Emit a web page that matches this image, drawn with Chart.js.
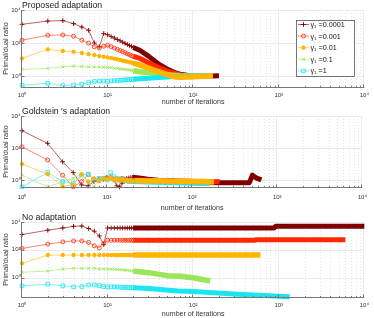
<!DOCTYPE html>
<html><head><meta charset="utf-8">
<script src="https://cdn.jsdelivr.net/npm/chart.js"></script>
<style>
html,body{margin:0;padding:0;background:#fff;}
#wrap{position:relative;width:374px;height:318px;overflow:hidden;background:#fff;}
.panel{position:absolute;left:0;width:374px;height:106px;}
</style></head><body>
<div id="wrap">
<div class="panel" style="top:0"><canvas id="c1"></canvas></div>
<div class="panel" style="top:106px"><canvas id="c2"></canvas></div>
<div class="panel" style="top:212px"><canvas id="c3"></canvas></div>
</div>
<script>
// ---------- labels / ticks ----------
const gammaLabels = ['γ₁ =0.0001','γ₁ =0.001','γ₁ =0.01','γ₁ =0.1','γ₁ =1'];
const panelTitles = ['Proposed adaptation','Goldstein ′s adaptation','No adaptation'];
const xTitle = 'number of iterations';
const yTitle = 'Primal/dual ratio';
const xTicks = [1,10,100,1000,10000];
const xTickLabels = ['10⁰','10¹','10²','10³','10⁴'];
const yTicks = [1,100,10000];
const yTickLabels = ['10⁰','10²','10⁴'];
const iters = [1,2,3,4,5,6,7,8,9,10,11,12,13,14,15,16,17,18,19,20];

// ---------- Proposed adaptation ----------
const pa1e4 = [1350,2140,2270,1490,930,590,100,59,372,316,245,200,162,135,112,95,81,71,62,54];
const pa1e3 = [148,295,309,257,148,98,59,49,64,74,60,49,41,35,30,26,22,20,17,15.5];
const pa1e2 = [11.7,41,33,29,25,21,18.5,16,14.5,13.4,12.3,11.2,10.2,9.3,8.5,7.9,7.4,6.9,6.5,6.0];
const pa1e1 = [2.5,2.9,3.6,4.0,3.7,3.6,3.5,3.5,3.4,3.3,3.2,3.0,2.9,2.75,2.6,2.5,2.4,2.3,2.2,2.1];
const pa1e0 = [0.27,0.36,0.26,0.28,0.32,0.4,0.46,0.49,0.5,0.47,0.5,0.52,0.54,0.55,0.56,0.58,0.59,0.6,0.62,0.63];
const paT1e4it = [20,24,30,40,50,60,70,85,100,140,200];
const paT1e4   = [54,35,16,5.0,2.6,1.66,1.3,1.1,1.0,0.95,1.05];
const paT1e3it = [20,24,30,40,50,60,70,85,100,130,170];
const paT1e3   = [15.5,11.5,6.3,3.2,2.0,1.5,1.2,1.05,1.0,0.95,1.0];
const paT1e2it = [20,24,30,40,50,60,70,85,100,130,170];
const paT1e2   = [6.0,4.6,3.0,1.8,1.2,0.91,0.83,0.87,0.91,0.95,1.0];
const paT1e1it = [20,24,30,40,50,70,100,170];
const paT1e1   = [2.1,1.8,1.6,1.3,1.17,1.05,1.0,1.0];
const paT1e0it = [20,30,40,60,80,100,160];
const paT1e0   = [0.63,0.72,0.81,0.93,0.98,1.0,1.0];

// ---------- Goldstein's adaptation ----------
const ga1e4 = [1200,195,13.8,2.9,0.49,0.43,0.79,1.1,1.1,1.26,1.48,1.0,0.43,0.37,0.63,0.89,1.26,1.32,1.41,1.48];
const ga1e3 = [120,17.8,2.0,0.37,0.79,2.2,1.12,0.89,1.26,1.41,1.26,1.12,1.0,1.12,1.26,1.12,1.0,1.12,1.05,1.0];
const ga1e2 = [10,2.3,0.4,0.5,2.2,0.79,1.26,0.89,1.26,1.12,1.41,1.0,1.26,0.89,1.12,0.89,1.0,0.79,1.0,0.89];
const ga1e1 = [2.0,0.37,0.79,1.26,2.6,0.68,0.37,1.0,1.26,1.12,1.0,0.89,1.0,0.95,0.89,0.95,0.85,0.9,0.85,0.85];
const ga1e0 = [0.37,2.9,0.79,0.63,2.0,2.3,1.0,1.26,1.26,1.0,2.9,1.6,1.26,1.0,1.12,0.89,1.0,0.79,0.89,0.79];
const gaT1e4it = [20,25,30,40,60,100,200,300,470,510,570,650];
const gaT1e4   = [1.48,1.3,1.1,0.95,0.85,0.75,0.68,0.68,0.68,2.0,1.3,1.0];
const gaT1e3it = [20,30,50,80,120,170,210];
const gaT1e3   = [1.0,0.95,0.9,0.85,0.8,0.78,0.8];
const gaT1e2it = [20,30,40,60,80,100,130,180];
const gaT1e2   = [0.89,0.85,0.9,0.8,0.85,0.78,0.8,0.75];
const gaT1e1it = [20,40,70,100,150];
const gaT1e1   = [0.85,0.8,0.8,0.78,0.8];
const gaT1e0it = [20,30,50,80,120,160];
const gaT1e0   = [0.79,0.75,0.7,0.65,0.6,0.6];

// ---------- No adaptation ----------
const na1e4 = [1260,2570,3720,4900,5130,3390,2190,1000,245,3720,3720,3720,3720,3720,3720,3720,3720,3720,3720,3720];
const na1e3 = [126,257,372,437,437,339,195,138,288,490,490,490,490,490,490,490,490,490,490,490];
const na1e2 = [10.7,42,42,42,42,42,42,42,42,42,42,42,42,42,42,42,42,42,42,42];
const na1e1 = [2.45,3.0,4.2,4.7,4.7,4.7,4.7,4.2,4.2,4.2,4.1,4.0,3.9,3.8,3.6,3.5,3.4,3.3,3.15,3.0];
const na1e0 = [0.26,0.34,0.26,0.22,0.23,0.3,0.3,0.27,0.23,0.22,0.22,0.22,0.21,0.21,0.2,0.2,0.2,0.19,0.19,0.19];
const naT1e4it = [20,880,920,10000];
const naT1e4   = [3720,3720,4900,4900];
const naT1e3it = [20,520,540,6000];
const naT1e3   = [490,490,525,525];
const naT1e2it = [20,610];
const naT1e2   = [42,42];
const naT1e1it = [20,30,50,70,100,158];
const naT1e1   = [3.0,2.3,1.4,1.25,1.0,0.58];
const naT1e0it = [20,30,67,100,330,1340];
const naT1e0   = [0.19,0.17,0.11,0.1,0.065,0.043];

// ---------- styles ----------
const COLORS = ['#800000','#ff2800','#ffb400','#9be55a','#19e6f0'];
const LINECOLORS = ['#a04040','#ff6a50','#ffc840','#b4ec84','#5cecf2'];
const MARKERS = ['cross','circle','star','crossRot','rect'];
const RADII = [2.4, 2.0, 2.1, 2.1, 2.6];
const MBW = [0.9, 0.8, 1.4, 0.9, 0.8];
const TAILW = [5, 5, 5.5, 5.5, 5];
const ORDER = [4, 3, 0, 2, 1];
const FONT = "'Liberation Sans', Arial, Helvetica, sans-serif";

function pts(xs, ys){ return ys.map((v,i)=>({x:xs[i], y:v})); }
function buildDatasets(heads, tails){
  const ds = [];
  for (let i=0;i<5;i++){
    ds.push({ data: pts(tails[i][0], tails[i][1]), borderColor: COLORS[i], borderWidth: TAILW[i],
      pointRadius: 0, order: 10+ORDER[i], borderCapStyle:'butt', borderJoinStyle:'round', clip: 3, fill:false });
    ds.push({ data: pts(iters, heads[i]), borderColor: LINECOLORS[i], borderWidth: 0.8,
      pointStyle: MARKERS[i], pointRadius: RADII[i], pointBorderColor: COLORS[i], pointBorderWidth: MBW[i],
      pointBackgroundColor: 'rgba(0,0,0,0)', order: ORDER[i], clip: 6, fill:false });
  }
  return ds;
}

function line(ctx,x1,y1,x2,y2){ ctx.beginPath(); ctx.moveTo(x1,y1); ctx.lineTo(x2,y2); ctx.stroke(); }

const decoPlugin = {
  id: 'deco',
  beforeDatasetsDraw(chart){
    const {ctx, chartArea:a, scales:{x,y}} = chart;
    ctx.save();
    ctx.lineWidth = 1;
    ctx.strokeStyle = '#e3e3e3';
    ctx.setLineDash([1,2]);
    for (const d of [1,10,100,1000]) for (let m=2;m<=9;m++){
      const px = Math.round(x.getPixelForValue(d*m))+0.5; line(ctx,px,a.top,px,a.bottom);
    }
    ctx.setLineDash([]);
    ctx.strokeStyle = '#ebebeb';
    xTicks.forEach(v=>{ const px = Math.round(x.getPixelForValue(v))-0.5; line(ctx,px,a.top,px,a.bottom); });
    yTicks.forEach(v=>{ const py = Math.round(y.getPixelForValue(v))+0.5; line(ctx,a.left,py,a.right,py); });
    ctx.restore();
  },
  afterDatasetsDraw(chart, args, opts){
    const {ctx, chartArea:a, scales:{x,y}} = chart;
    ctx.save();
    ctx.strokeStyle = '#777'; ctx.lineWidth = 1;
    const L = Math.round(a.left)-0.5, B = Math.round(a.bottom)+0.5;
    line(ctx,L,a.top,L,B); line(ctx,L,B,a.right,B);
    xTicks.forEach(v=>{ const px = Math.round(x.getPixelForValue(v))-0.5; line(ctx,px,B,px,B-3); });
    for (const d of [1,10,100,1000]) for (let m=2;m<=9;m++){
      const px = Math.round(x.getPixelForValue(d*m))+0.5; line(ctx,px,B,px,B-1.5);
    }
    yTicks.forEach(v=>{ const py = Math.round(y.getPixelForValue(v))+0.5; line(ctx,L,py,L+3,py); });
    // panel title
    ctx.fillStyle = '#1a1a1a'; ctx.font = '8.7px ' + FONT; ctx.textBaseline = 'alphabetic'; ctx.textAlign = 'left';
    ctx.fillText(opts.title, a.left, a.top - 2.5);
    // legend
    if (opts.legend){
      const lx = 296.5, ly = 20.5, lw = 58, lh = 56;
      ctx.fillStyle = '#fff'; ctx.fillRect(lx,ly,lw,lh);
      ctx.strokeStyle = '#555'; ctx.lineWidth = 0.8; ctx.strokeRect(lx,ly,lw,lh);
      for (let i=0;i<5;i++){
        const yy = 24.5 + i*11.6;
        ctx.strokeStyle = LINECOLORS[i]; ctx.lineWidth = 0.8; line(ctx,298,yy,309,yy);
        ctx.strokeStyle = COLORS[i]; ctx.lineWidth = MBW[i]; ctx.fillStyle = 'rgba(0,0,0,0)';
        Chart.helpers.drawPoint(ctx, {pointStyle:MARKERS[i], radius:RADII[i], borderWidth:MBW[i], rotation:0}, 303.5, yy);
        ctx.fillStyle = '#111'; ctx.font = '7.2px ' + FONT; ctx.textBaseline = 'middle';
        ctx.fillText(gammaLabels[i], 310.5, yy+0.5);
      }
    }
    ctx.restore();
  }
};

function makeChart(id, p){
  return new Chart(document.getElementById(id), {
    type: 'line',
    data: { datasets: buildDatasets(p.heads, p.tails) },
    options: {
      responsive: true, maintainAspectRatio: false, animation: false,
      layout: { padding: { left: 0, right: 8, top: p.top, bottom: 0 } },
      elements: { line: { tension: 0 } },
      plugins: { legend: {display:false}, tooltip: {enabled:false}, deco: { title: p.title, legend: p.legend } },
      scales: {
        x: { type:'logarithmic', position:'bottom', min:1, max:10000,
          grid:{display:false, drawTicks:false}, border:{display:false},
          afterBuildTicks: s => { s.ticks = xTicks.map(v=>({value:v})); },
          afterFit: s => { s.height = p.xh; },
          ticks: { autoSkip:false, maxRotation:0, padding:p.tpad, color:'#333', font:{family:FONT,size:6},
            callback: v => xTickLabels[xTicks.indexOf(v)] },
          title: { display:true, text:xTitle, color:'#333', font:{family:FONT,size:7.1}, padding:{top:0,bottom:0} } },
        y: { type:'logarithmic', position:'left', min:p.ymin, max:10000,
          grid:{display:false, drawTicks:false}, border:{display:false},
          afterBuildTicks: s => { s.ticks = yTicks.map(v=>({value:v})); },
          afterFit: s => { s.width = 22; },
          ticks: { autoSkip:false, padding:1.5, color:'#333', font:{family:FONT,size:6},
            callback: v => yTickLabels[yTicks.indexOf(v)] },
          title: { display:true, text:yTitle, color:'#333', font:{family:FONT,size:7.3}, padding:{top:2,bottom:0} } }
      }
    },
    plugins: [decoPlugin]
  });
}

makeChart('c1', { title: panelTitles[0], legend: true, top: 10, xh: 19, tpad: 5, ymin: 0.215,
  heads: [pa1e4, pa1e3, pa1e2, pa1e1, pa1e0],
  tails: [[paT1e4it,paT1e4],[paT1e3it,paT1e3],[paT1e2it,paT1e2],[paT1e1it,paT1e1],[paT1e0it,paT1e0]] });
makeChart('c2', { title: panelTitles[1], legend: false, top: 10, xh: 25, tpad: 7, ymin: 0.363,
  heads: [ga1e4, ga1e3, ga1e2, ga1e1, ga1e0],
  tails: [[gaT1e4it,gaT1e4],[gaT1e3it,gaT1e3],[gaT1e2it,gaT1e2],[gaT1e1it,gaT1e1],[gaT1e0it,gaT1e0]] });
makeChart('c3', { title: panelTitles[2], legend: false, top: 10, xh: 21, tpad: 5, ymin: 0.041,
  heads: [na1e4, na1e3, na1e2, na1e1, na1e0],
  tails: [[naT1e4it,naT1e4],[naT1e3it,naT1e3],[naT1e2it,naT1e2],[naT1e1it,naT1e1],[naT1e0it,naT1e0]] });
</script>
</body></html>
